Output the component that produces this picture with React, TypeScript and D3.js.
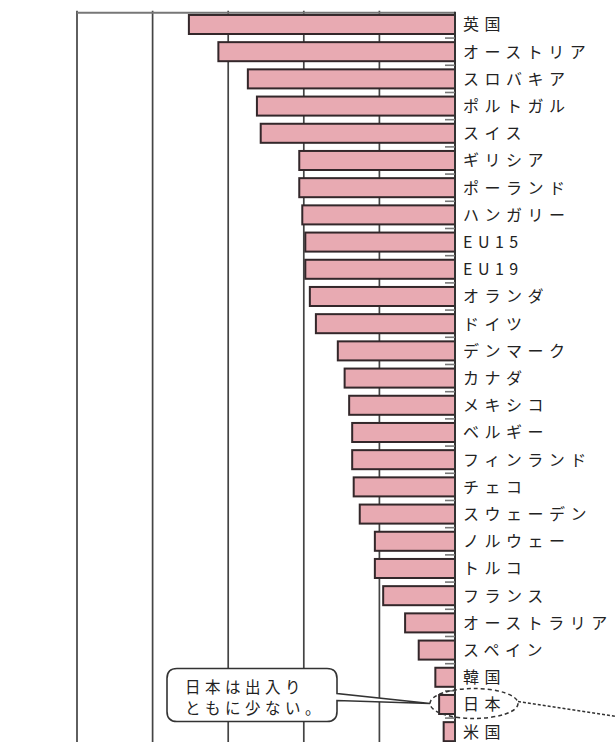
import React from 'react';
import * as d3 from 'd3';

// countries, top to bottom
const countries = [
  '英国', 'オーストリア', 'スロバキア', 'ポルトガル', 'スイス', 'ギリシア',
  'ポーランド', 'ハンガリー', 'EU15', 'EU19', 'オランダ', 'ドイツ',
  'デンマーク', 'カナダ', 'メキシコ', 'ベルギー', 'フィンランド', 'チェコ',
  'スウェーデン', 'ノルウェー', 'トルコ', 'フランス', 'オーストラリア',
  'スペイン', '韓国', '日本', '米国',
];

// bar lengths (grid step = 10)
const values = [
  35.2, 31.3, 27.4, 26.2, 25.7, 20.6,
  20.6, 20.2, 19.8, 19.8, 19.2, 18.4,
  15.5, 14.6, 14.0, 13.6, 13.6, 13.4,
  12.6, 10.6, 10.6, 9.5, 6.6,
  4.8, 2.6, 2.1, 1.5,
];

const gridTicks = [10, 20, 30, 40, 50];
const calloutLines = ['日本は出入り', 'ともに少ない。'];

const W = 616;
const H = 742;
const zeroX = 455;
const leftX = 77;
const topY = 12.7;

const App: React.FC = () => {
  const x = d3.scaleLinear().domain([0, 50]).range([zeroX, leftX]);
  const y = d3
    .scaleBand<string>()
    .domain(countries)
    .range([6.8, 6.8 + 27.2 * (countries.length + 0.3)])
    .padding(0.3);

  const bw = y.bandwidth();
  const gap = y.step() - bw;
  const font = '"Noto Sans CJK JP", "Noto Sans CJK SC", sans-serif';

  // Japan callout
  const jy = (y('日本') as number) + bw / 2;
  const ellCx = 474;
  const ellRx = 44;
  const box = { x0: 167, x1: 337, y0: jy - 36, y1: jy + 17, r: 10 };
  const tipX = x(2.1) - 9;

  const calloutPath = [
    `M${box.x0 + box.r},${box.y0}`,
    `H${box.x1 - box.r}`,
    `Q${box.x1},${box.y0} ${box.x1},${box.y0 + box.r}`,
    `V${jy - 11}`,
    `L${tipX},${jy - 1}`,
    `L${box.x1},${jy - 4}`,
    `V${box.y1 - box.r}`,
    `Q${box.x1},${box.y1} ${box.x1 - box.r},${box.y1}`,
    `H${box.x0 + box.r}`,
    `Q${box.x0},${box.y1} ${box.x0},${box.y1 - box.r}`,
    `V${box.y0 + box.r}`,
    `Q${box.x0},${box.y0} ${box.x0 + box.r},${box.y0}`,
    'Z',
  ].join(' ');

  return (
    <div style={{ position: 'absolute', left: 0, top: 0 }}>
      <svg width={W} height={H} style={{ display: 'block', background: '#fff' }}>
        {/* grid */}
        {gridTicks.map((t) => (
          <line
            key={t}
            x1={x(t)}
            x2={x(t)}
            y1={topY - 2}
            y2={H}
            stroke="#444"
            strokeWidth={1.7}
          />
        ))}
        <line x1={leftX} x2={zeroX} y1={topY} y2={topY} stroke="#777" strokeWidth={2} />

        {/* bars */}
        {countries.map((c, i) => (
          <rect
            key={c}
            x={x(values[i])}
            y={y(c)}
            width={x(0) - x(values[i])}
            height={bw}
            fill="#e8aab2"
            stroke="#33272a"
            strokeWidth={2}
          />
        ))}

        {/* axis */}
        <line x1={zeroX} x2={zeroX} y1={topY - 1} y2={H} stroke="#333" strokeWidth={2} />
        {countries.slice(1).map((c) => (
          <line
            key={c}
            x1={zeroX - 10}
            x2={zeroX}
            y1={(y(c) as number) - gap / 2}
            y2={(y(c) as number) - gap / 2}
            stroke="#777"
            strokeWidth={1.6}
          />
        ))}

        {/* labels */}
        {countries.map((c) => (
          <text
            key={c}
            x={zeroX + 8}
            y={(y(c) as number) + bw / 2 - 1}
            dominantBaseline="central"
            fontFamily={font}
            fontSize={16}
            letterSpacing={5.5}
            fill="#222"
          >
            {c}
          </text>
        ))}

        {/* callout */}
        <path d={calloutPath} fill="#fff" stroke="#333" strokeWidth={1.6} />
        {calloutLines.map((t, i) => (
          <text
            key={t}
            x={box.x0 + 18}
            y={box.y0 + 18 + i * 21}
            dominantBaseline="central"
            fontFamily={font}
            fontSize={15.5}
            letterSpacing={4.5}
            fill="#222"
          >
            {t}
          </text>
        ))}
        <ellipse
          cx={ellCx}
          cy={jy - 1}
          rx={ellRx}
          ry={15}
          fill="none"
          stroke="#333"
          strokeWidth={1.5}
          strokeDasharray="4,3"
        />
        <line
          x1={ellCx + ellRx}
          y1={jy - 3}
          x2={W}
          y2={jy + 12}
          stroke="#333"
          strokeWidth={1.5}
          strokeDasharray="3,2"
        />
      </svg>
    </div>
  );
};

export default App;
